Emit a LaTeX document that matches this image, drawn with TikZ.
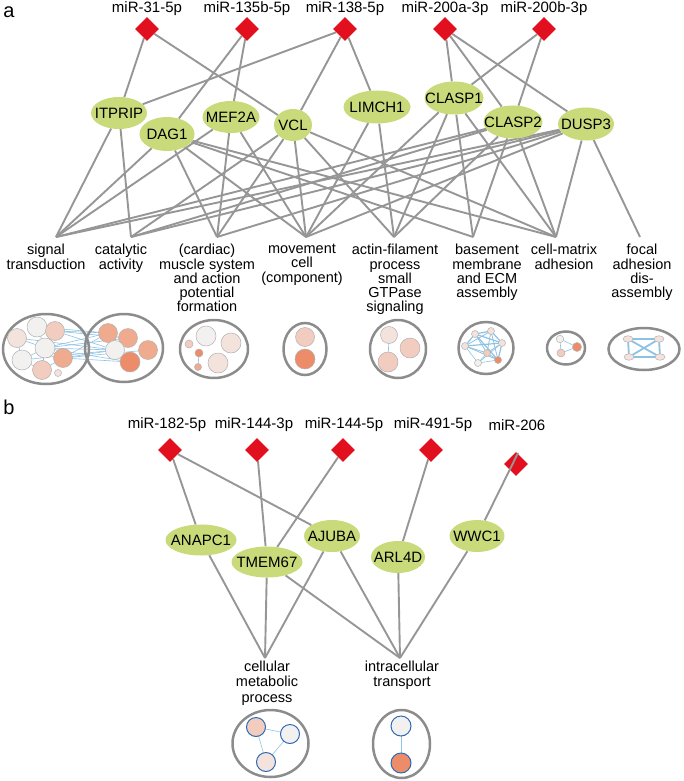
\documentclass[tikz,border=0pt]{standalone}
\usepackage{fontspec}
\setmainfont{Liberation Sans}
\usetikzlibrary{shapes.geometric}
\pgfdeclarelayer{bg}
\pgfsetlayers{bg,main}
\definecolor{edgegray}{RGB}{150,150,150}
\definecolor{mirred}{RGB}{226,16,30}
\definecolor{genegreen}{RGB}{200,218,122}
\definecolor{clgray}{RGB}{140,140,140}
\definecolor{cblue}{RGB}{140,195,228}
\definecolor{nblue}{RGB}{45,105,180}
\definecolor{pz}{RGB}{243,240,240}
\definecolor{pa}{RGB}{244,226,220}
\definecolor{pb}{RGB}{242,204,190}
\definecolor{pc}{RGB}{240,170,142}
\definecolor{pd}{RGB}{237,140,105}
\begin{document}
\begin{tikzpicture}[x=1pt,y=-1pt,
 mir/.style={diamond, fill=mirred, minimum size=24pt, inner sep=0pt},
 gene/.style={ellipse, fill=genegreen, inner sep=0pt, label={[lab]center:#1}},
 lab/.style={font=\fontsize{15}{15}\selectfont, inner sep=0pt},
 ttl/.style={font=\fontsize{20}{20}\selectfont, inner sep=0pt},
 golab/.style={align=center, anchor=north, font=\fontsize{14.5}{14.3}\selectfont, inner sep=0pt},
 e/.style={draw=edgegray, line width=1.9pt},
 cl/.style={draw=clgray, line width=2.5pt},
 cn/.style={circle, draw=gray!60, line width=0.5pt, inner sep=0pt},
 bn/.style={circle, draw=nblue, line width=1pt, inner sep=0pt, minimum size=19pt},
 ce/.style={draw=cblue, line width=0.6pt},
 fe/.style={draw=cblue, line width=1.8pt},
]
\useasboundingbox (0,0) rectangle (684,781);
% ---------------- part a ----------------
\node[ttl] (ta) at (9,12) {a};
\foreach \n/\x/\t in {m31/147/miR-31-5p, m135/247/miR-135b-5p, m138/345/miR-138-5p, m200a/445/miR-200a-3p, m200b/544/miR-200b-3p}{
  \node[mir] (\n) at (\x,29) {};
  \node[lab] (\n l) at (\x,9) {\t};
}
\node[gene=ITPRIP, minimum width=56pt, minimum height=32pt] (itprip) at (119,113) {};
\node[gene=DAG1, minimum width=55pt, minimum height=34pt] (dag1) at (167,134) {};
\node[gene=MEF2A, minimum width=57pt, minimum height=32pt] (mef2a) at (231,117) {};
\node[gene=VCL, minimum width=38pt, minimum height=32pt] (vcl) at (293,125) {};
\node[gene=LIMCH1, minimum width=67pt, minimum height=33pt] (limch1) at (377,107) {};
\node[gene=CLASP1, minimum width=59pt, minimum height=33pt] (clasp1) at (454,98) {};
\node[gene=CLASP2, minimum width=59pt, minimum height=33pt] (clasp2) at (513,122) {};
\node[gene=DUSP3, minimum width=56pt, minimum height=33pt] (dusp3) at (586,124) {};
% GO term anchors
\coordinate (st) at (56,237);
\coordinate (ca) at (131,237);
\coordinate (mu) at (217,237);
\coordinate (mo) at (306,237);
\coordinate (af) at (394,237);
\coordinate (bm) at (473,237);
\coordinate (cm) at (556,237);
\coordinate (fa) at (640,237);
\node[golab] (stl) at (46,244) {signal\\transduction};
\node[golab] (cal) at (121,244) {catalytic\\activity};
\node[golab] (mul) at (207,244) {(cardiac)\\muscle system\\and action\\potential\\formation};
\node[golab] (mol) at (302,244) {movement\\cell\\(component)};
\node[golab] (afl) at (395,244) {actin-filament\\process\\small\\GTPase\\signaling};
\node[golab] (bml) at (487,244) {basement\\membrane\\and ECM\\assembly};
\node[golab] (cml) at (564,244) {cell-matrix\\adhesion};
\node[golab] (fal) at (642,244) {focal\\adhesion\\dis-\\assembly};
\begin{pgfonlayer}{bg}
\foreach \a/\b in {m31/itprip, m31/vcl, m135/dag1, m135/mef2a, m138/itprip, m138/vcl, m138/limch1,
  m200a/clasp1, m200a/clasp2, m200a/dusp3, m200b/clasp1, m200b/clasp2,
  itprip/st, itprip/ca, dag1/st, dag1/mu, dag1/mo, dag1/bm, dag1/cm,
  mef2a/st, mef2a/mu, mef2a/mo, vcl/ca, vcl/mu, vcl/mo, vcl/af, vcl/cm, limch1/af, limch1/mo,
  clasp1/af, clasp1/bm, clasp1/cm, clasp1/mo,
  clasp2/st, clasp2/ca, clasp2/af, clasp2/bm, clasp2/cm,
  dusp3/st, dusp3/ca, dusp3/mu, dusp3/mo, dusp3/cm, dusp3/fa}{
  \draw[e] (\a) -- (\b);
}
\end{pgfonlayer}
% clusters a
\coordinate (s1) at (17,338); \coordinate (s2) at (37,327); \coordinate (s3) at (55,331);
\coordinate (s4) at (45,348); \coordinate (s5) at (22,360); \coordinate (s6) at (63,358);
\coordinate (s7) at (42,370); \coordinate (s8) at (58,373);
\coordinate (c1) at (108,333); \coordinate (c2) at (128,338); \coordinate (c3) at (115,350);
\coordinate (c4) at (148,350); \coordinate (c5) at (130,362);
\foreach \a/\b in {s1/s4, s2/s4, s3/s4, s5/s4, s6/s4, s7/s4, s1/s5, s2/s3, s5/s7, s4/s7, s6/s7,
  s3/c1, s3/c3, s4/c1, s4/c3, s4/c5, s6/c3, s6/c5, s6/c1, s3/c2, s2/c1, s4/c2, s6/c4, s1/c3, s5/c3}{
  \draw[ce] (\a) -- (\b);
}
\draw[cl] (46,349) ellipse [x radius=43, y radius=35];
\draw[cl] (124,348) ellipse [x radius=39, y radius=34];
\node[cn, fill=pa, minimum size=19pt] (sn1) at (s1) {};
\node[cn, fill=pz, minimum size=20pt] (sn2) at (s2) {};
\node[cn, fill=pb, minimum size=19pt] (sn3) at (s3) {};
\node[cn, fill=pz, minimum size=20pt] (sn4) at (s4) {};
\node[cn, fill=pz, minimum size=20pt] (sn5) at (s5) {};
\node[cn, fill=pc, minimum size=19pt] (sn6) at (s6) {};
\node[cn, fill=pb, minimum size=19pt] (sn7) at (s7) {};
\node[cn, fill=pa, minimum size=7pt] (sn8) at (s8) {};
\node[cn, fill=pc, minimum size=19pt] (cn1) at (c1) {};
\node[cn, fill=pc, minimum size=19pt] (cn2) at (c2) {};
\node[cn, fill=pz, minimum size=19pt] (cn3) at (c3) {};
\node[cn, fill=pc, minimum size=19pt] (cn4) at (c4) {};
\node[cn, fill=pd, minimum size=20pt] (cn5) at (c5) {};
% muscle
\draw[cl] (214,349) ellipse [x radius=34, y radius=29];
\draw[ce] (199,353) -- (198,367);
\node[cn, fill=pz, minimum size=20pt] (mu1) at (206,336) {};
\node[cn, fill=pa, minimum size=20pt] (mu2) at (231,343) {};
\node[cn, fill=pb, minimum size=8pt] (mu3) at (189,344) {};
\node[cn, fill=pd, minimum size=8pt] (mu4) at (199,353) {};
\node[cn, fill=pa, minimum size=20pt] (mu5) at (218,363) {};
\node[cn, fill=pc, minimum size=7pt] (mu6) at (198,367) {};
% movement
\draw[cl] (305,349) ellipse [x radius=21.5, y radius=26];
\node[cn, fill=pb, minimum size=19pt] (mo1) at (305,337) {};
\node[cn, fill=pd, minimum size=20pt] (mo2) at (305,359) {};
% actin
\draw[cl] (398,349) ellipse [x radius=28, y radius=29];
\draw[ce] (389,335) -- (388,362);
\node[cn, fill=pa, minimum size=17pt] (af1) at (389,335) {};
\node[cn, fill=pb, minimum size=20pt] (af2) at (410,348) {};
\node[cn, fill=pb, minimum size=20pt] (af3) at (388,362) {};
% basement membrane
\draw[cl] (486,348) ellipse [x radius=27.5, y radius=26];
\coordinate (b1) at (475,334); \coordinate (b2) at (491,331); \coordinate (b3) at (465,346);
\coordinate (b4) at (502,343); \coordinate (b5) at (487,353); \coordinate (b6) at (498,360);
\coordinate (b7) at (478,363);
\foreach \a/\b/\w in {b1/b2/1.2, b1/b3/1.2, b1/b4/1.2, b1/b5/0.8, b1/b6/1.2, b2/b3/0.8, b2/b4/1.2, b2/b5/0.8, b2/b6/0.8,
  b3/b4/1.2, b3/b5/0.8, b3/b6/0.8, b3/b7/0.6, b4/b5/0.8, b4/b6/1.2, b5/b6/0.8, b5/b7/0.6, b6/b7/0.6, b4/b7/0.6}{
  \draw[draw=cblue, line width=\w pt] (\a) -- (\b);
}
\foreach \c/\f in {b1/pa, b2/pa, b3/pa, b4/pa, b5/pb, b6/pd, b7/pz}{
  \node[cn, fill=\f, minimum size=7pt] at (\c) {};
}
% cell-matrix
\draw[cl] (566,348) ellipse [x radius=19, y radius=16.5];
\draw[ce] (560,339) -- (577,347) -- (561,353) -- cycle;
\node[cn, fill=pz, minimum size=7.5pt] (cm1) at (560,339) {};
\node[cn, fill=pd, minimum size=9pt] (cm2) at (577,347) {};
\node[cn, fill=pb, minimum size=8pt] (cm3) at (561,353) {};
% focal adhesion
\draw[cl] (644,349) ellipse [x radius=35.5, y radius=21];
\draw[fe] (628,339) -- (659,339) -- (660,357) -- (629,357) -- cycle;
\draw[fe] (628,339) -- (660,357);
\draw[fe] (659,339) -- (629,357);
\foreach \c in {(628,339),(659,339),(629,357),(660,357)}{
  \node[ellipse, draw=gray!60, line width=0.5pt, fill=pa, minimum width=10pt, minimum height=6.5pt, inner sep=0pt] at \c {};
}
% ---------------- part b ----------------
\node[ttl] (tb) at (9,407) {b};
\foreach \n/\x/\y in {m182/170/450, m1443/257/450, m1445/343/450, m491/431/450, m206/516/464}{
  \node[mir] (\n) at (\x,\y) {};
}
\foreach \n/\x/\t in {m182/167/miR-182-5p, m1443/254/miR-144-3p, m1445/344/miR-144-5p, m491/433/miR-491-5p, m206/517/miR-206}{
  \node[lab] (\n l) at (\x,425) {\t};
}
\node[gene=ANAPC1, minimum width=71pt, minimum height=31pt] (anapc1) at (201,540) {};
\node[gene=TMEM67, minimum width=71pt, minimum height=31pt] (tmem67) at (267,562) {};
\node[gene=AJUBA, minimum width=56pt, minimum height=32pt] (ajuba) at (332,536) {};
\node[gene=ARL4D, minimum width=54pt, minimum height=32pt] (arl4d) at (398,557) {};
\node[gene=WWC1, minimum width=55pt, minimum height=32pt] (wwc1) at (477,536) {};
\coordinate (cmp) at (265,658);
\coordinate (it) at (400,658);
\coordinate (m206e) at (518,453);
\node[golab, font=\fontsize{14.5}{15.2}\selectfont] (cmpl) at (267,661) {cellular\\metabolic\\process};
\node[golab, font=\fontsize{14.5}{15.2}\selectfont] (itl) at (402,661) {intracellular\\transport};
\begin{pgfonlayer}{bg}
\foreach \a/\b in {m182/anapc1, m182/ajuba, m1443/tmem67, m1445/tmem67, m491/arl4d,
  anapc1/cmp, tmem67/cmp, ajuba/cmp, tmem67/it, ajuba/it, arl4d/it, wwc1/it}{
  \draw[e] (\a) -- (\b);
}
\end{pgfonlayer}
\draw[e] (m206e) -- (wwc1);
% clusters b
\draw[cl] (270.5,743.5) ellipse [x radius=38, y radius=33.5];
\draw[ce] (256,727) -- (290,734) -- (266,762) -- cycle;
\node[bn, fill=pb] (k1) at (256,727) {};
\node[bn, fill=pz] (k2) at (290,734) {};
\node[bn, fill=pa] (k3) at (266,762) {};
\draw[cl] (401.5,744) ellipse [x radius=28.5, y radius=34];
\draw[ce] (401,726) -- (401,763);
\node[bn, fill=pz, minimum size=20pt] (t1) at (401,726) {};
\node[bn, fill=pd, minimum size=20pt] (t2) at (401,763) {};
\end{tikzpicture}
\end{document}
